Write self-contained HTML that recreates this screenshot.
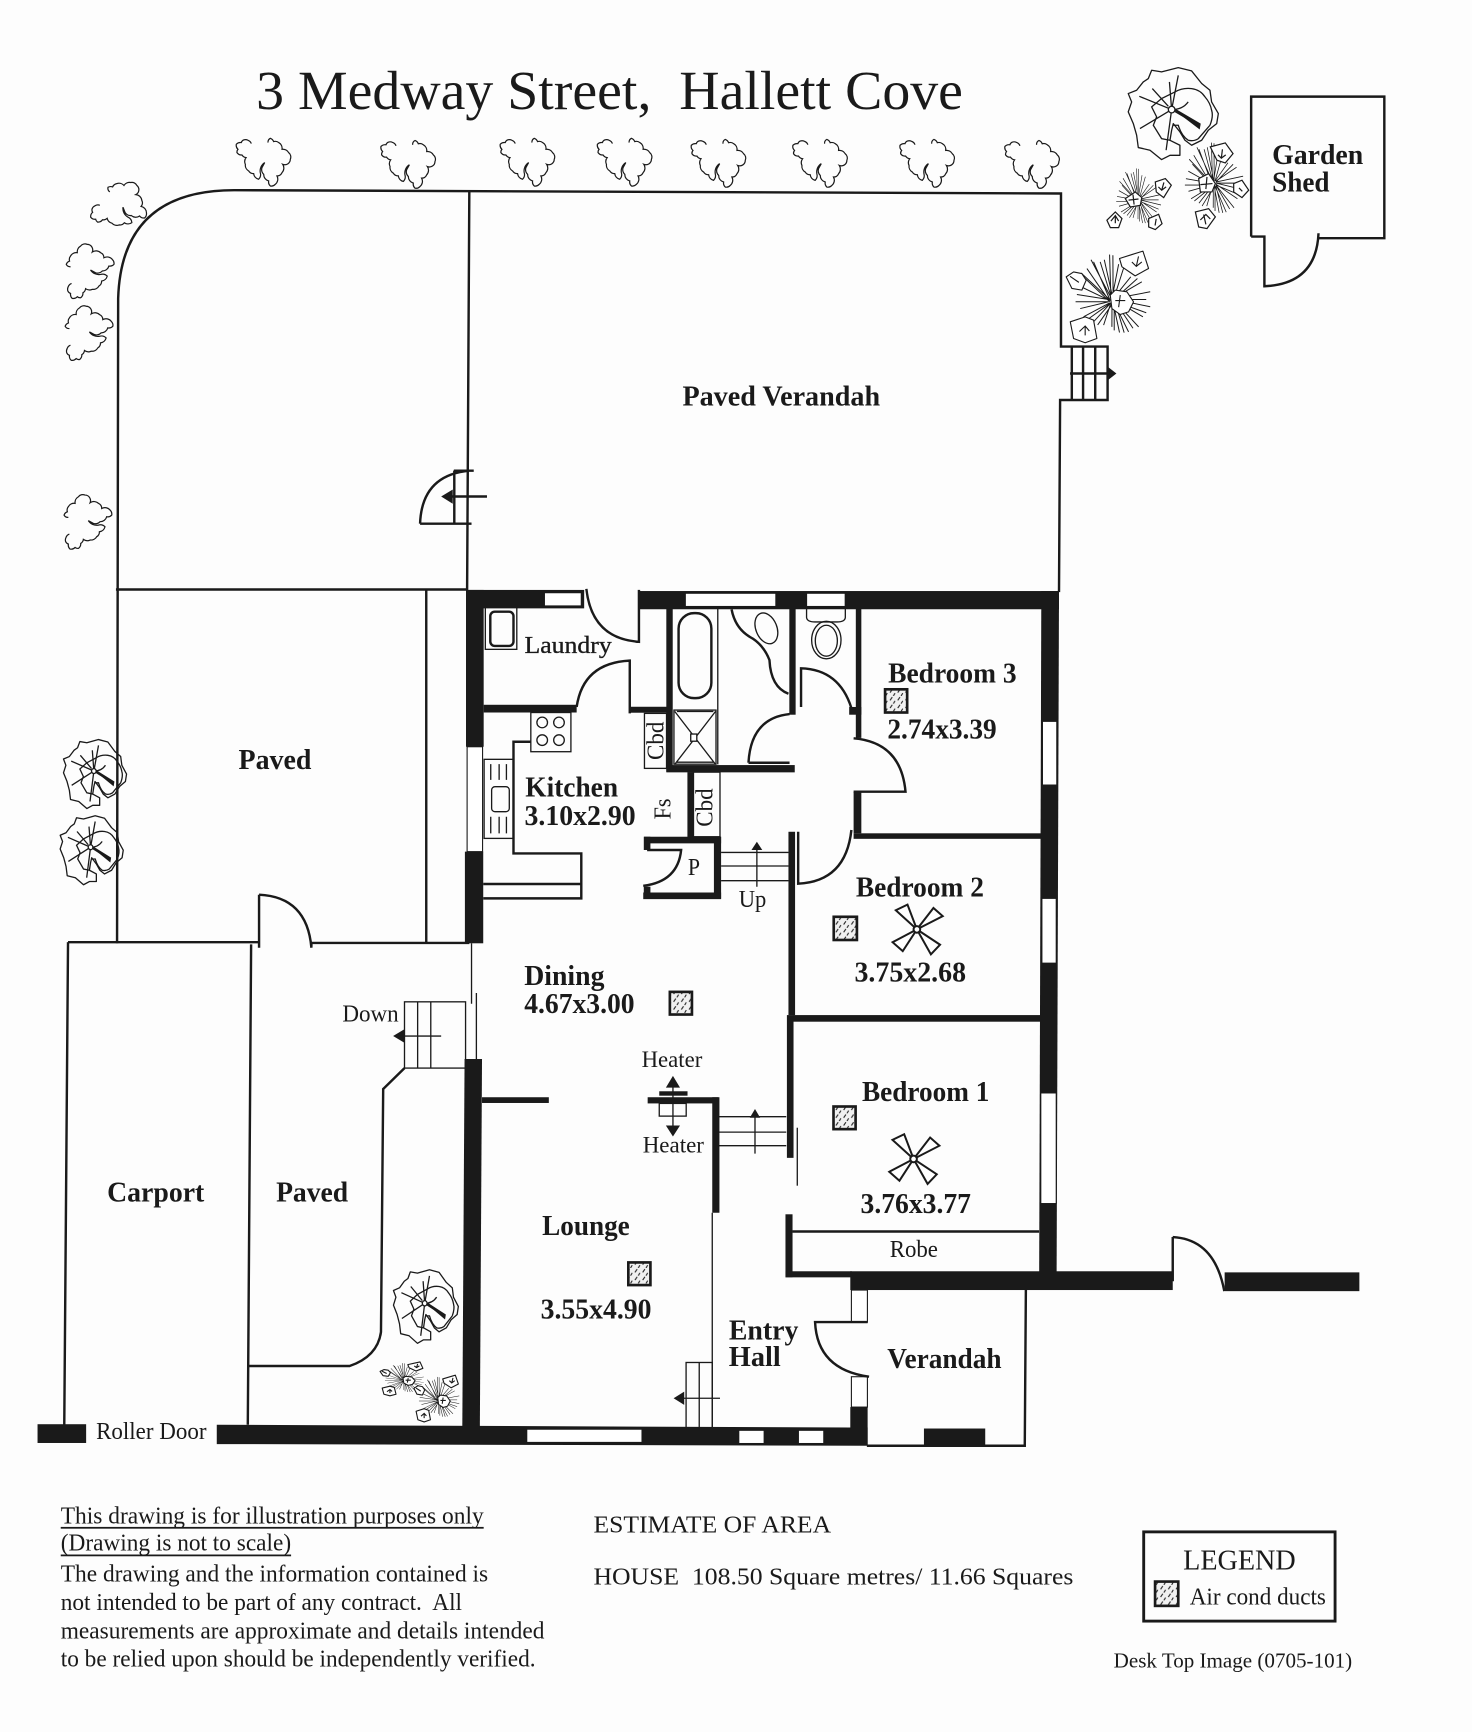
<!DOCTYPE html>
<html><head><meta charset="utf-8"><style>
html,body{margin:0;padding:0;background:#fdfdfd;width:1472px;height:1732px;overflow:hidden}
svg{display:block}
text{font-family:"Liberation Serif",serif;fill:#1a1a1a}
.b{font-weight:bold;font-size:25.5px}
.r{font-size:22px}
.s{font-size:21px}
.l{fill:none;stroke:#1a1a1a;stroke-width:2.2}
.t{fill:none;stroke:#1a1a1a;stroke-width:1.2}
.k{fill:#1a1a1a;stroke:none}
.w{fill:#fff;stroke:#1a1a1a;stroke-width:1}
.ns *{vector-effect:non-scaling-stroke}
</style></head><body>
<svg xmlns="http://www.w3.org/2000/svg" width="1472" height="1732" viewBox="0 0 1333 1568">
<defs>
<pattern id="st" width="7" height="7" patternUnits="userSpaceOnUse"><rect width="7" height="7" fill="#f0f0f0"/><path d="M1 4l2-3M4 7l1.5-2.5" stroke="#222" stroke-width="1"/></pattern>
<path id="bush" fill="none" stroke="#1a1a1a" stroke-width="1.1" d="M13.6 4.8A5 5 0 0 0 10.6 1.8A5 5 0 0 0 6.6 1.5A4 4 0 0 0 4.5 3.9A5 5 0 0 0 0 5.4A5 5 0 0 0 1.5 10A4 4 0 0 0 .6 13A5 5 0 0 0 5.1 15.1A5 5 0 0 0 8.8 17.5A6 6 0 0 0 8.2 23.6A6 6 0 0 0 11.2 29.6A5 5 0 0 0 15.7 32A6 6 0 0 0 20.2 37.1A6 6 0 0 0 21.7 31.1A9 9 0 0 1 25.7 22L23.2 26.6A6 6 0 0 0 24.8 32.6A6 6 0 0 0 29.3 38.6A5 5 0 0 0 30.8 43.2A5 5 0 0 0 35.3 41.7A6 6 0 0 0 36.8 34.1A5 5 0 0 0 41.4 31.1A6 6 0 0 0 42 23.6A5 5 0 0 0 48.9 19A5 5 0 0 0 47.4 13A6 6 0 0 0 41.4 10A6 6 0 0 0 38.4 3.9A5 5 0 0 0 33.8 3A5 5 0 0 0 30.8 0A4 4 0 0 0 28.7 3.9"/>
<g id="tree" class="ns" fill="none" stroke="#1a1a1a" stroke-width="1.3">
<path d="M-18.1-35.6L-9.1-34.1L6-38L18.1-35L27.2-23.6L34.7-17.5L36.2-6.9L42.3 3.6L40.8 12.7L33.2 18.7L27.2 27.8L18.1 32.3L12.1 27.8L7.5 20.2L1.5 12.7L0 18.7L-1.5 27.8L7.5 32.3L7.5 41.4L-1.5 41.4L-9.1 45.3L-19.6 36.8L-30.2 34.4L-31.7 23.2L-34.7 12.7L-39.3 2.1L-36.2-6.9L-39.3-14.5L-31.7-17.5L-25.7-25L-21.1-28.1Z" stroke-linejoin="round"/>
<path d="M34.7 14.2Q38 6 36.2 .6Q35-6 30.2-11.5Q26-18 18.1-19Q10-20 3-16L-9.1-10L-18.1-2.4L-13.6 6.6L-16.6 14.2L-9.1 26.3L-1.5 27.8M1.5 14.2H6Q9 24 15.1 27.8Q20 29 24.2 26.3L34.7 14.2"/>
<path d="M0 0L-29.3-12M0 0L6-31M0 0L-2-25M-3-3L-17.5-19M0 0Q10 0 15-7M0 0L25.7 15M0 0L-5 36.8M0 0L-28.7 17.2"/>
<path d="M0-2L25.7 13L25 17Z" fill="#1a1a1a"/>
<circle r="3" fill="#fff"/>
</g>
<path id="sp" fill="none" stroke="#1a1a1a" stroke-width=".9" d="M41 44L26.3 9.9M43 44L32.3 9.9M42 42L40.8 3.3M44 42L43.8 3.9M41 46L20.3 16M41 46L18.7 25M40 44L11.2 39.5M40 46L14.2 52.2M41 47L17.2 59.7M42 47L26.3 64.2M42 47L35.4 67.2M43 47L42.9 68.8M44 47L49.8 73.9M45 47L58 73.3M46 46L67.1 68.8M46 45L71 59.7M46 44L77.6 50.6M46 43L77.6 37M46 42L70 28M45 42L60 23.5M43 44L24 8M44 44L36 8M42 45L15 20M41 45L14 32M40 46L10 46M42 47L21 62M44 47L30 67M45 47L45 72M46 47L54 74M46 46L62 70M46 46L74 56M46 44L74 44M46 43L66 25M45 42L54 14M43 43L49 12"/>
<g id="pA" class="ns">
<use href="#sp"/>
<g fill="#fff" stroke="#1a1a1a" stroke-width="1.1" stroke-linejoin="round">
<path d="M41.4 40L45.9 35.5L56.5 37L62.5 46.1L58 55.2L50.4 57.6L42.9 52.2Z"/>
<path d="M49.8 6.9L61 3.3L71 .2L76.1 15.9L64 22.6L52 14.4Z"/>
<path d="M1.5 23.5L8.2 19L15.7 20.5L19.6 26.5L15.7 35.5L6.7 34Z"/>
<path d="M5.2 64.2L18.7 59.7L26.3 62.7L29.3 79.3L18.7 83.2L8.2 79.3Z"/>
</g>
<path fill="none" stroke="#1a1a1a" stroke-width="1.1" d="M50.5 40L49 51M46 45L55 45M67 5L65 14M61 10L65 14L70 10M5 23L13 28.5M18.7 68L18.7 76.5M13.5 73L18.7 68L22.5 72.5"/>
</g>
</defs>
<rect width="1333" height="1568" fill="#fdfdfd"/>

<text x="232" y="98.7" font-size="50" textLength="640" lengthAdjust="spacingAndGlyphs" xml:space="preserve">3 Medway Street,  Hallett Cove</text>

<!-- bushes -->
<use href="#bush" x="214" y="125"/><use href="#bush" x="345" y="127"/><use href="#bush" x="453" y="125"/><use href="#bush" x="541" y="125"/><use href="#bush" x="626" y="126"/><use href="#bush" x="718" y="126"/><use href="#bush" x="815" y="126"/><use href="#bush" x="910" y="127"/>
<use href="#bush" transform="translate(78,193) rotate(-50)"/>
<use href="#bush" transform="translate(60,270) rotate(-90)"/>
<use href="#bush" transform="translate(59,326) rotate(-90)"/>
<use href="#bush" transform="translate(58,497) rotate(-90)"/>

<!-- trees / plants -->
<use href="#tree" transform="translate(1061,99)"/>
<use href="#tree" transform="translate(384.6,1180) scale(.72,.8)"/>
<use href="#tree" transform="translate(85,698) scale(.7,.75)"/>
<use href="#tree" transform="translate(82,767) scale(.7,.75)"/>
<use href="#pA" transform="translate(964,227)"/>
<!-- plant 1 -->
<use href="#sp" transform="translate(1004.8,150) scale(.6,.7)" style="stroke-width:1.4"/>
<g fill="#fff" stroke="#1a1a1a" stroke-width="1.1">
<path d="M1019 179.6L1028 173.6L1034 178.6L1032.6 185.7L1023.6 187.2Z"/>
<path d="M1046.2 164.5L1055.3 161.5L1060.7 167.5L1053.8 178.7L1047.1 173.6Z"/>
<path d="M1002.4 199.2L1010 191.7L1016 197.7L1013 205.9L1005.5 205.9Z"/>
<path d="M1040.2 197.7L1049.2 193.8L1052.3 202.3L1046.2 207.7L1040.2 205.3Z"/>
<path d="M1026 176L1027 185M1022 181L1031 180M1054 165L1052 172M1049 169L1052 172L1056 169M1010 195V202M1006 200L1010 195L1013 200M1047 198L1046 204"/>
</g>
<!-- plant 2 -->
<use href="#sp" transform="translate(1065.2,126) scale(.78,.9)" style="stroke-width:1.2"/>
<g fill="#fff" stroke="#1a1a1a" stroke-width="1.1">
<path d="M1096 132.8L1109.6 129.2L1116.6 138.9L1109.6 147.3L1102 144.9Z"/>
<path d="M1117.2 166L1124.7 163L1130.8 172L1124.7 178.7L1117.2 173.6Z"/>
<path d="M1085.5 161.5L1094.5 157L1100.6 166L1097.5 173.6L1087 173.6Z"/>
<path d="M1082.5 191.7L1094.5 188.7L1100.6 196.2L1093 206.8L1085.5 205.3Z"/>
<path d="M1107 135L1106 143M1103 140L1106 143L1110 140M1093 160L1092 171M1087 167L1098 166M1122 170L1125 173M1090 194L1092 203M1087 199L1092 194L1096 198"/>
</g>
<use href="#pA" transform="translate(343.4,1233) scale(.52,.37)"/>
<use href="#pA" transform="translate(374,1245) scale(.54,.51)"/>

<!-- yard outline -->
<path class="l" d="M106 854L107 270Q110 172 212 172L960.8 175V313.6H1003V362H960L959 536"/>
<path class="l" d="M425 173L423 534M105 533.6H423M386 534V853"/>
<path class="l" d="M970.6 313.6V362M980.8 313.6V362M991.8 313.6V362M969 338H1003"/>
<path class="k" d="M1011 338L1002 331V345Z"/>
<!-- verandah door -->
<path class="l" d="M380.4 474H427M411.4 426V474M411 426H429M380.4 474Q382 430 425 426M404 449.4H441"/>
<path class="k" d="M399.5 449.4L410 443V456Z"/>
<!-- shed -->
<path class="l" stroke-width="2.6" d="M1133 214V87.3H1253.6V215.5H1194M1133 214H1145V259Q1192 257 1194 211"/>

<!-- house walls -->
<rect class="k" x="422" y="534" width="107" height="16.7"/>
<rect class="k" x="578.6" y="535" width="380.4" height="16.5"/>
<rect class="k" x="422" y="534" width="16" height="142"/>
<rect class="k" x="421" y="771" width="16.6" height="83"/>
<path class="k" d="M943 535H959L956.8 1165H941Z"/>
<rect class="k" x="770" y="1151" width="292" height="17"/>
<rect class="k" x="711.3" y="1151" width="60" height="5.5"/>
<rect class="k" x="1109" y="1152" width="122" height="17"/>
<path class="k" d="M420.7 958.8H436.5L434.5 1300H418.6Z"/>
<path class="k" d="M196.3 1290L770 1292.5H785.7V1309L196.3 1307.5Z"/>
<rect class="k" x="34" y="1289.5" width="44" height="17"/>
<rect class="k" x="836.7" y="1293.4" width="55.5" height="16"/>
<rect class="k" x="770" y="1274" width="15.7" height="34"/>
<!-- windows -->
<rect class="w" x="493" y="536.5" width="33.4" height="12"/>
<rect class="w" x="620.6" y="537" width="82" height="12"/>
<rect class="w" x="730.4" y="537" width="35" height="12"/>
<rect class="w" x="944" y="653" width="13" height="57.7"/>
<rect class="w" x="943.5" y="813.3" width="13" height="58.7"/>
<rect class="w" x="942.5" y="989.5" width="14" height="100.2"/>
<rect class="w" x="423" y="676" width="14" height="95" stroke-width="1.5"/>
<rect class="w" x="477" y="1294" width="104.4" height="12"/>
<rect class="w" x="669" y="1295" width="23" height="12"/>
<rect class="w" x="723" y="1295" width="23" height="12"/>
<rect class="w" x="771" y="1168" width="14.5" height="29" stroke-width="2"/>
<rect class="w" x="771" y="1246.5" width="14.5" height="27.5" stroke-width="2"/>

<!-- laundry -->
<rect class="k" x="438" y="638" width="84.2" height="7"/>
<rect class="k" x="571" y="639.8" width="38" height="5.4"/>
<path class="l" d="M531 533Q536 578 578.6 581V534"/>
<path class="l" d="M570.3 645.8V598Q528 600 522.2 640"/>
<rect class="t" x="439.5" y="549.8" width="28.5" height="38" stroke-width="1.6"/>
<rect class="l" x="444" y="553.7" width="21" height="31" rx="4" stroke-width="1.6"/>
<!-- bath -->
<rect class="k" x="603.4" y="550.7" width="5.8" height="148"/>
<rect class="k" x="603.4" y="692.6" width="116.3" height="6.6"/>
<rect class="k" x="714.8" y="550.7" width="5.7" height="96.3"/>
<path class="t" d="M650 551V692" stroke-width="1.4"/>
<rect class="l" x="614.5" y="555" width="29.7" height="77" rx="14" stroke-width="1.6"/>
<rect class="t" x="610.3" y="642.8" width="38.1" height="49" stroke-width="1.8"/>
<path class="t" d="M611 644L648 692M648 644L611 692M613 644H646M613 690H646" stroke-width="1.4"/>
<rect class="t" x="625.5" y="664.5" width="5.5" height="6.5" fill="#fff" style="fill:#fff"/>
<ellipse class="t" cx="694" cy="568.8" rx="9.5" ry="14.5" transform="rotate(-22 694 568.8)" stroke-width="1.6"/>
<path class="l" stroke-width="1.6" d="M662.5 551.6Q666 570 681.6 578Q692 585 696.8 597.5Q698 622 714 628"/>
<path class="l" d="M677.8 690.5H715M677.8 690.5Q680 650 715 646.4" stroke-width="1.8"/>
<!-- toilet -->
<path class="t" stroke-width="1.6" d="M730.4 551V559Q731 563 738 563H758Q765 563 765.5 559V551"/>
<ellipse class="t" cx="748.3" cy="579.4" rx="13.3" ry="17" stroke-width="1.6"/>
<ellipse class="t" cx="748.3" cy="580" rx="10" ry="14" stroke-width="1.4"/>
<rect class="k" x="775" y="550" width="5" height="118"/>
<rect class="k" x="769" y="640" width="11" height="7"/>
<path class="l" stroke-width="1.8" d="M725.4 640V605Q760 606 771 641"/>
<rect class="k" x="773" y="717" width="7" height="37.4"/>
<rect class="k" x="773" y="754.4" width="170" height="5"/>
<path class="l" d="M773 716.7H820Q816 672 773 668.4" stroke-width="1.8"/>
<!-- central wall -->
<rect class="k" x="714" y="753" width="6" height="166"/>
<rect class="k" x="712.6" y="919" width="6" height="129.3"/>
<rect class="k" x="718" y="919" width="225" height="6"/>
<path class="l" stroke-width="1.8" d="M722.8 753V800Q766 798 771 751.4"/>
<path class="t" d="M722 1021V1073.5" stroke-width="1.6"/>
<rect class="k" x="711.3" y="1099.4" width="6.4" height="57"/>
<path class="l" d="M717.7 1115H941"/>
<!-- kitchen -->
<rect class="t" x="480.7" y="645" width="36.3" height="35.5" stroke-width="2"/>
<circle class="t" cx="491" cy="654" r="4.8" stroke-width="1.5"/><circle class="t" cx="506.2" cy="654" r="4.8" stroke-width="1.5"/><circle class="t" cx="491" cy="670" r="4.8" stroke-width="1.5"/><circle class="t" cx="506.2" cy="670" r="4.8" stroke-width="1.5"/>
<path class="l" stroke-width="1.8" d="M480.7 671.5H465V772.6H526.4V813.3H437.6M437.6 800.3H526.4"/>
<rect class="t" x="438.4" y="687.4" width="26.6" height="71.6" stroke-width="1.6"/>
<rect class="t" x="445.2" y="712.2" width="16" height="22.6" rx="3" stroke-width="1.6"/>
<path class="t" d="M444.4 691.7V706M452 691.7V706M458.6 691.7V706M444.4 739.4V754.5M452 739.4V754.5M458.6 739.4V754.5"/>
<!-- cupboards -->
<rect class="t" x="583.6" y="645.8" width="20" height="49.8" stroke-width="1.8"/>
<rect class="k" x="622.5" y="699" width="5.7" height="60"/>
<rect class="t" x="628" y="699" width="24" height="58.5" stroke-width="1.6"/>
<!-- pantry -->
<rect class="k" x="583.2" y="757.5" width="69.8" height="6"/>
<rect class="k" x="646.5" y="757.5" width="6.5" height="56"/>
<rect class="k" x="582.5" y="808" width="70.5" height="6"/>
<rect class="k" x="583" y="757.5" width="6" height="12"/>
<rect class="k" x="583" y="802.7" width="6" height="11"/>
<path class="l" stroke-width="1.8" d="M586 769.5H616.8Q614 798 582.5 802"/>
<path class="t" d="M653 771.7H714M653 784H714M653 797.3H714" stroke-width="1.6"/>
<path class="t" d="M685.4 768V802.8" stroke-width="1.6"/>
<path class="k" d="M685.4 762L680.5 769.5H690.3Z"/>

<!-- paved left door, carport -->
<path class="l" d="M61.6 853H234.6M61.6 853L58.2 1290M227.4 855L224.4 1290M234.6 810V858M282 857V853.7H425M234.6 810Q278 812 282 858"/>
<path class="t" d="M427 854V908.7M431.4 899V958.8" stroke-width="1.6"/>
<rect class="t" x="366.3" y="907" width="55.3" height="60" stroke-width="1.8"/>
<path class="t" d="M378.2 907V967M390.1 907V967M361 938H399.5" stroke-width="1.6"/>
<path class="k" d="M356 938L366 932V944Z"/>
<path class="l" stroke-width="1.8" d="M366.3 967L347 986L345 1206Q342 1228 316.6 1236.8H225"/>

<!-- mid walls -->
<rect class="k" x="436.5" y="993.4" width="60.5" height="5.2"/>
<rect class="k" x="586.5" y="993.4" width="64" height="5.6"/>
<rect class="k" x="645" y="993.4" width="6.5" height="104.6"/>
<path class="t" d="M645 1098L645 1293" stroke-width="1.6"/>
<rect class="k" x="597" y="988" width="25.6" height="4"/>
<rect class="t" x="597" y="999" width="24.4" height="11.5" stroke-width="1.6"/>
<path class="t" d="M609.4 980V1024" stroke-width="1.6"/>
<path class="k" d="M609.4 974L603 984.7H615.8ZM609.4 1029L603 1019H615.8Z"/>
<path class="t" d="M651 1011H712M651 1025H712M651 1037.3H712M683.7 1010V1044.5" stroke-width="1.6"/>
<path class="k" d="M683.7 1004L679 1012H688.4Z"/>
<rect class="t" x="621.3" y="1233.6" width="23.7" height="59.4" stroke-width="1.6"/>
<path class="t" d="M633.2 1233.6V1293M614 1266H652" stroke-width="1.6"/>
<path class="k" d="M610 1266L619.6 1260V1272Z"/>

<!-- entry door, verandah -->
<path class="l" stroke-width="1.8" d="M785.7 1197H738.1Q740 1240 787 1246.5"/>
<path class="l" d="M929 1167L928 1309H785"/>
<path class="l" d="M1062 1120V1160M1062 1120Q1100 1122 1108.7 1169" stroke-width="1.8"/>

<!-- AC -->
<g fill="url(#st)" stroke="#1a1a1a" stroke-width="2.4">
<rect x="801.5" y="624" width="20" height="21"/>
<rect x="755" y="830" width="21" height="21"/>
<rect x="606.6" y="898" width="20" height="20.5"/>
<rect x="569" y="1143" width="20" height="20.5"/>
<rect x="754.8" y="1001.8" width="20" height="20.5"/>
<rect x="1046" y="1432" width="21" height="22"/>
</g>
<!-- fans -->
<g fill="#fff" stroke="#1a1a1a" stroke-width="1.8">
<g transform="translate(830.3,841.4)"><path d="M0 0L-19.1-17.3L-8.5-22.4Z"/><path d="M0 0L15-19.4L23.4-12Z"/><path d="M0 0L21 13.9L12.7 22.6Z"/><path d="M0 0L-22 11.6L-12.8 19.7Z"/><circle r="3"/></g>
<g transform="translate(827.3,1049.3)"><path d="M0 0L-19.1-17.3L-8.5-22.4Z"/><path d="M0 0L15-19.4L23.4-12Z"/><path d="M0 0L21 13.9L12.7 22.6Z"/><path d="M0 0L-22 11.6L-12.8 19.7Z"/><circle r="3"/></g>
</g>

<!-- labels -->
<text class="b" x="618" y="367" textLength="179" lengthAdjust="spacingAndGlyphs">Paved Verandah</text>
<text class="b" x="1152" y="148.3" textLength="82.5" lengthAdjust="spacingAndGlyphs">Garden</text>
<text class="b" x="1152" y="173" textLength="52" lengthAdjust="spacingAndGlyphs">Shed</text>
<text class="r" x="475" y="591" textLength="79" lengthAdjust="spacingAndGlyphs" stroke="#1a1a1a" stroke-width=".3">Laundry</text>
<text class="b" x="804.3" y="618" textLength="116.3" lengthAdjust="spacingAndGlyphs">Bedroom 3</text>
<text class="b" x="803.6" y="668.4" textLength="99" lengthAdjust="spacingAndGlyphs">2.74x3.39</text>
<text class="b" x="475.7" y="721" textLength="84" lengthAdjust="spacingAndGlyphs">Kitchen</text>
<text class="b" x="475" y="747" textLength="100.6" lengthAdjust="spacingAndGlyphs">3.10x2.90</text>
<text class="b" x="775" y="811.8" textLength="116" lengthAdjust="spacingAndGlyphs">Bedroom 2</text>
<text class="b" x="773.8" y="888.6" textLength="101" lengthAdjust="spacingAndGlyphs">3.75x2.68</text>
<text class="b" x="780.6" y="997" textLength="115.4" lengthAdjust="spacingAndGlyphs">Bedroom 1</text>
<text class="b" x="779.3" y="1098.4" textLength="100" lengthAdjust="spacingAndGlyphs">3.76x3.77</text>
<text class="r" x="805.7" y="1138.2" textLength="43.7" lengthAdjust="spacingAndGlyphs">Robe</text>
<text class="b" x="660" y="1212.6" textLength="63" lengthAdjust="spacingAndGlyphs">Entry</text>
<text class="b" x="660" y="1236.8" textLength="47" lengthAdjust="spacingAndGlyphs">Hall</text>
<text class="b" x="803.5" y="1238.4" textLength="103.5" lengthAdjust="spacingAndGlyphs">Verandah</text>
<text class="b" x="474.7" y="891.8" textLength="72.7" lengthAdjust="spacingAndGlyphs">Dining</text>
<text class="b" x="474.7" y="917" textLength="100" lengthAdjust="spacingAndGlyphs">4.67x3.00</text>
<text class="b" x="97" y="1088" textLength="88" lengthAdjust="spacingAndGlyphs">Carport</text>
<text class="b" x="250" y="1088" textLength="65.3" lengthAdjust="spacingAndGlyphs">Paved</text>
<text class="b" x="216" y="696" textLength="66" lengthAdjust="spacingAndGlyphs">Paved</text>
<text class="b" x="490.9" y="1118" textLength="79.4" lengthAdjust="spacingAndGlyphs">Lounge</text>
<text class="b" x="489.6" y="1193.8" textLength="100.4" lengthAdjust="spacingAndGlyphs">3.55x4.90</text>
<text class="r" x="87" y="1303" textLength="100" lengthAdjust="spacingAndGlyphs">Roller Door</text>
<text class="r" x="310" y="925" textLength="51" lengthAdjust="spacingAndGlyphs">Down</text>
<text class="s" x="581" y="966" textLength="55" lengthAdjust="spacingAndGlyphs">Heater</text>
<text class="s" x="582" y="1043.5" textLength="55.5" lengthAdjust="spacingAndGlyphs">Heater</text>
<text class="r" x="669" y="821" textLength="25" lengthAdjust="spacingAndGlyphs">Up</text>
<text class="r" x="622.9" y="792" textLength="11" lengthAdjust="spacingAndGlyphs">P</text>
<text class="r" transform="translate(600.8,688) rotate(-90)" textLength="34.7" lengthAdjust="spacingAndGlyphs">Cbd</text>
<text class="r" transform="translate(645.4,748.4) rotate(-90)" textLength="34.7" lengthAdjust="spacingAndGlyphs">Cbd</text>
<text class="r" transform="translate(607,741.8) rotate(-90)" textLength="19" lengthAdjust="spacingAndGlyphs">Fs</text>

<!-- notes -->
<text class="r" x="55" y="1379.3" textLength="383" lengthAdjust="spacingAndGlyphs">This drawing is for illustration purposes only</text>
<rect class="k" x="55" y="1382.5" width="383" height="1.6"/>
<text class="r" x="55" y="1404" textLength="208.6" lengthAdjust="spacingAndGlyphs">(Drawing is not to scale)</text>
<rect class="k" x="55" y="1407.5" width="208.6" height="1.6"/>
<text class="r" x="55" y="1432" textLength="387" lengthAdjust="spacingAndGlyphs">The drawing and the information contained is</text>
<text class="r" x="55" y="1457.8" textLength="363.4" lengthAdjust="spacingAndGlyphs" xml:space="preserve">not intended to be part of any contract.  All</text>
<text class="r" x="55" y="1483.5" textLength="438" lengthAdjust="spacingAndGlyphs">measurements are approximate and details intended</text>
<text class="r" x="55" y="1509" textLength="430" lengthAdjust="spacingAndGlyphs">to be relied upon should be independently verified.</text>
<text class="r" x="537.4" y="1387.8" textLength="215.2" lengthAdjust="spacingAndGlyphs" font-size="23">ESTIMATE OF AREA</text>
<text class="r" x="537.4" y="1434.6" textLength="434.6" lengthAdjust="spacingAndGlyphs" xml:space="preserve">HOUSE  108.50 Square metres/ 11.66 Squares</text>
<rect x="1035.7" y="1387" width="173.3" height="80.8" fill="none" stroke="#1a1a1a" stroke-width="2.6"/>
<text x="1071.4" y="1421" font-size="26" textLength="102" lengthAdjust="spacingAndGlyphs">LEGEND</text>
<text class="r" x="1077.4" y="1453" textLength="123.3" lengthAdjust="spacingAndGlyphs">Air cond ducts</text>
<text x="1008.5" y="1509.8" font-size="19" textLength="216" lengthAdjust="spacingAndGlyphs">Desk Top Image (0705-101)</text>
</svg>
</body></html>
